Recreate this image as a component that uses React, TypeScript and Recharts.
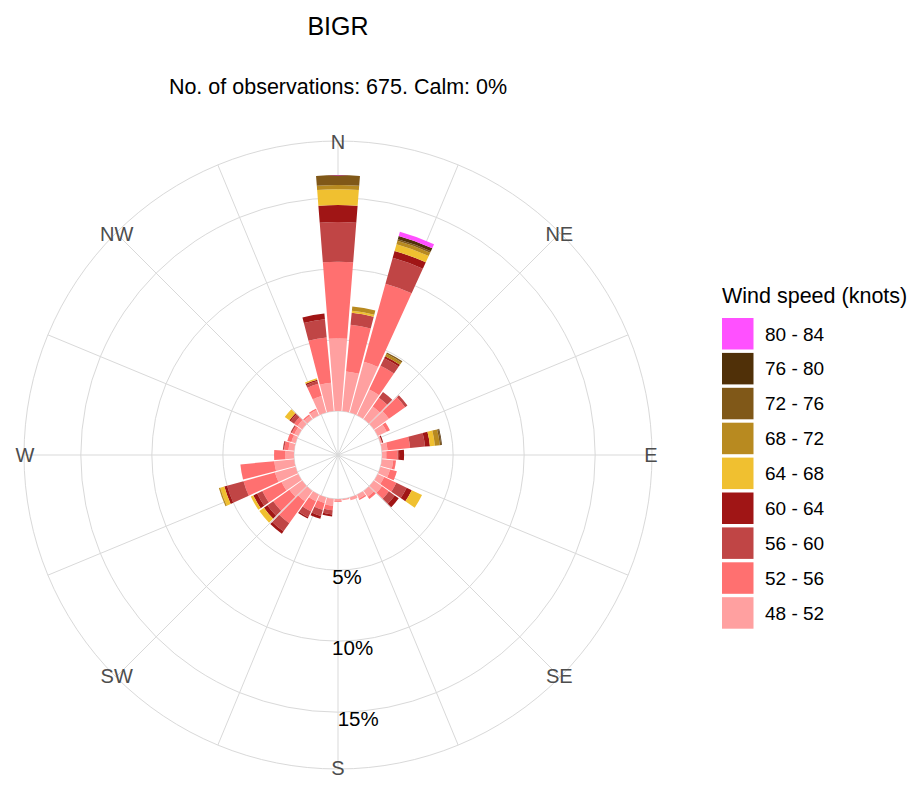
import React from 'react';
import { RadialBarChart, RadialBar, PolarAngleAxis, PolarRadiusAxis, PolarGrid } from 'recharts';

const FONT = '"Liberation Sans", Arial, Helvetica, sans-serif';

// Wind directions (degrees), starting at North and going clockwise
const directions = ['360','10','20','30','40','50','60','70','80','90','100','110','120','130','140','150','160','170','180','190','200','210','220','230','240','250','260','270','280','290','300','310','320','330','340','350'];

// Frequency (%) of each wind-speed bin per direction (same order as directions)
const s48 = [5.1, 2.8, 3.7, 2.0, 1.1, 1.3, 0.7, 0.12, 0.4, 0.3, 0.8, 0.7, 0.5, 0.7, 0.5, 0.3, 0.2, 0.1, 0.15, 0.5, 0.4, 0.5, 0.9, 1.1, 1.3, 1.5, 1.4, 0.6, 0.4, 0.3, 0.3, 0.4, 0.3, 0.4, 1.2, 2.0];
const s52 = [5.4, 3.3, 5.7, 1.85, 0.75, 1.4, 0.25, 0, 1.6, 0.8, 0.2, 0.5, 0.95, 0.6, 0.2, 0.1, 0, 0, 0.05, 0.3, 0.5, 0.8, 1.9, 1.4, 1.5, 2.3, 2.4, 0.8, 0.3, 0.3, 0.2, 0.3, 0.1, 0.1, 0.9, 3.2];
const s56 = [2.8, 0.85, 1.9, 0.6, 0.5, 0.2, 0, 0, 1.05, 0.1, 0, 0, 0.8, 0.5, 0, 0, 0, 0, 0, 0.3, 0.45, 0.45, 0.7, 0.5, 0.4, 1.2, 0, 0, 0.1, 0, 0.1, 0.3, 0, 0, 0.2, 1.3];
const s60 = [1.2, 0, 0.5, 0.15, 0, 0, 0, 0.08, 0.35, 0.35, 0, 0, 0.4, 0.35, 0, 0, 0, 0, 0, 0.15, 0.2, 0.1, 0.2, 0.3, 0.3, 0.2, 0, 0, 0, 0, 0, 0.1, 0, 0, 0.1, 0.4];
const s64 = [1.1, 0.15, 0.5, 0, 0, 0, 0, 0, 0.35, 0, 0, 0, 0.8, 0, 0, 0, 0, 0, 0, 0, 0, 0, 0, 0.4, 0.2, 0.3, 0, 0, 0, 0, 0, 0.4, 0, 0, 0.1, 0];
const s68 = [0.3, 0.3, 0.24, 0.2, 0, 0, 0, 0, 0.35, 0, 0, 0, 0, 0, 0, 0, 0, 0, 0, 0, 0, 0, 0, 0, 0, 0.1, 0, 0, 0, 0, 0, 0, 0, 0, 0, 0];
const s72 = [0.7, 0, 0.12, 0.1, 0, 0, 0, 0, 0.1, 0, 0, 0, 0, 0, 0, 0, 0, 0, 0, 0, 0, 0, 0, 0, 0, 0, 0, 0, 0, 0, 0, 0, 0, 0, 0, 0];
const s76 = [0, 0, 0.24, 0, 0, 0, 0, 0, 0.05, 0, 0, 0, 0, 0, 0, 0, 0, 0, 0, 0, 0, 0, 0, 0, 0, 0, 0, 0, 0, 0, 0, 0, 0, 0, 0, 0];
const s80 = [0, 0, 0.3, 0, 0, 0, 0, 0, 0, 0, 0, 0, 0, 0, 0, 0, 0, 0, 0, 0, 0, 0, 0, 0, 0, 0, 0, 0, 0, 0, 0, 0, 0, 0, 0, 0];

const binKeys = ['b48', 'b52', 'b56', 'b60', 'b64', 'b68', 'b72', 'b76', 'b80'];
const binSeries = [s48, s52, s56, s60, s64, s68, s72, s76, s80];
const binLabels = ['48 - 52', '52 - 56', '56 - 60', '60 - 64', '64 - 68', '68 - 72', '72 - 76', '76 - 80', '80 - 84'];
const binColors = ['#FFA0A0', '#FF7070', '#C04545', '#A01515', '#F0C030', '#B88A20', '#805818', '#503008', '#FF50FF'];

// Compass grid spokes (degrees clockwise from North) and compass labels
const compassTicks = [0, 22.5, 45, 67.5, 90, 112.5, 135, 157.5, 180, 202.5, 225, 247.5, 270, 292.5, 315, 337.5];
const compassLabelAngles = [0, 45, 90, 135, 180, 225, 270, 315];
const compassLabels = ['N', 'NE', 'E', 'SE', 'S', 'SW', 'W', 'NW'];
const radiusTicks = [0, 5, 10, 15];

// geometry of the polar panel
const CX = 338;
const CY = 455;
const OUTER = 314;

const data = directions.map((dir, i) => {
  const row: Record<string, any> = { dir };
  binKeys.forEach((k, j) => { row[k] = binSeries[j][i]; });
  return row;
});

const RadiusTick = (props: any) => {
  const { x, y, payload } = props;
  if (payload.value === 0) return <g />;
  return (
    <text x={x} y={y + 7} textAnchor="middle" dominantBaseline="central" fill="#000" fontSize={20.5} fontFamily={FONT}>
      {`${payload.value}%`}
    </text>
  );
};

export default function App() {
  const legendItems = binLabels.map((l, i) => ({ label: l, color: binColors[i] })).reverse();
  const labelR = OUTER - 1;
  return (
    <div style={{ position: 'absolute', left: 0, top: 0, width: 915, height: 785, background: '#fff' }}>
      <RadialBarChart
        width={915}
        height={785}
        data={data}
        cx={CX}
        cy={CY}
        innerRadius={0}
        outerRadius={OUTER}
        startAngle={85}
        endAngle={-275}
        layout="centric"
        barCategoryGap="5%"
        margin={{ top: 0, right: 0, bottom: 0, left: 0 }}
      >
        <PolarGrid gridType="circle" stroke="#d9d9d9" polarAngles={compassTicks.map((t) => 90 - t)} />
        <PolarAngleAxis
          dataKey="dir"
          type="category"
          tick={false}
          tickLine={false}
          axisLine={{ stroke: '#d9d9d9' }}
          axisLineType="circle"
        />
        <PolarRadiusAxis
          type="number"
          domain={[-3.103, 18.621]}
          ticks={radiusTicks}
          angle={-85.5}
          axisLine={false}
          tickLine={false}
          tick={<RadiusTick />}
        />
        {binKeys.map((k, i) => (
          <RadialBar key={k} dataKey={k} name={binLabels[i]} stackId="ws" fill={binColors[i]} isAnimationActive={false} />
        ))}
      </RadialBarChart>
      <svg width={915} height={785} style={{ position: 'absolute', left: 0, top: 0, pointerEvents: 'none' }}>
        <text x={338} y={35} textAnchor="middle" fontSize={25} fontFamily={FONT} fill="#000">BIGR</text>
        <text x={338} y={94} textAnchor="middle" fontSize={21.5} fontFamily={FONT} fill="#000">No. of observations: 675. Calm: 0%</text>
        {compassLabels.map((name, i) => {
          const a = (compassLabelAngles[i] * Math.PI) / 180;
          return (
            <text
              key={name}
              x={CX + labelR * Math.sin(a)}
              y={CY - labelR * Math.cos(a)}
              textAnchor="middle"
              dominantBaseline="central"
              fontSize={20}
              fontFamily={FONT}
              fill="#4d4d4d"
            >
              {name}
            </text>
          );
        })}
        <text x={722} y={303} fontSize={21.5} fontFamily={FONT} fill="#000">Wind speed (knots)</text>
        {legendItems.map((it, i) => (
          <g key={it.label}>
            <rect x={722} y={318 + i * 34.9} width={31.5} height={31.5} fill={it.color} />
            <text x={765} y={318 + i * 34.9 + 16} dominantBaseline="central" fontSize={19} fontFamily={FONT} fill="#000">{it.label}</text>
          </g>
        ))}
      </svg>
    </div>
  );
}
